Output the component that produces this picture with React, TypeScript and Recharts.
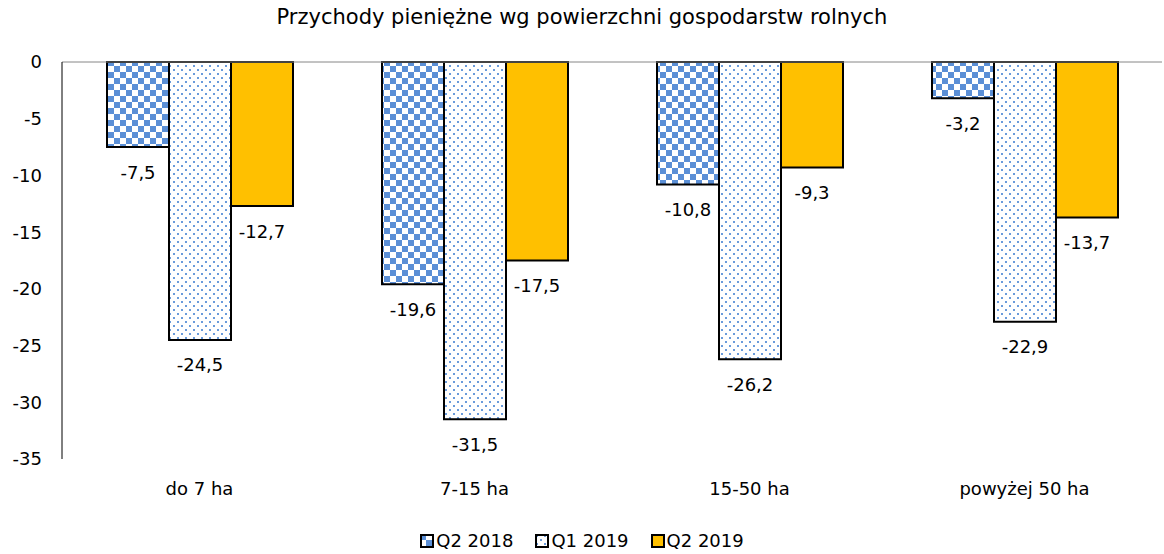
import React from "react";
import { BarChart, Bar, XAxis, YAxis, ReferenceLine, LabelList, Legend } from "recharts";

const categories = ["do 7 ha", "7-15 ha", "15-50 ha", "powyżej 50 ha"];
const q2_2018 = [-7.5, -19.6, -10.8, -3.2];
const q1_2019 = [-24.5, -31.5, -26.2, -22.9];
const q2_2019 = [-12.7, -17.5, -9.3, -13.7];
const yTicks = [0, -5, -10, -15, -20, -25, -30, -35];
const seriesNames = ["Q2 2018", "Q1 2019", "Q2 2019"];

const data = categories.map((c, i) => ({
  name: c,
  a: q2_2018[i],
  b: q1_2019[i],
  c: q2_2019[i],
}));

const FONT = "'DejaVu Sans', Verdana, sans-serif";
const fills = ["url(#checker)", "url(#dots)", "#FFC000"];

const fmt = (v: number) => String(v).replace(".", ",");

const BarLabel = (props: any) => {
  const { x, y, width, height, value } = props;
  const bottom = Math.max(y, y + height);
  return (
    <text
      x={x + width / 2}
      y={bottom + 25}
      textAnchor="middle"
      dominantBaseline="central"
      fontSize={18}
      fontFamily={FONT}
      fill="#000"
    >
      {fmt(value)}
    </text>
  );
};

const LegendContent = () => (
  <div style={{ display: "flex", justifyContent: "center", alignItems: "center", fontFamily: FONT, fontSize: 18, color: "#000" }}>
    {seriesNames.map((n, i) => (
      <div key={n} style={{ display: "flex", alignItems: "center", marginRight: i < 2 ? 22 : 0 }}>
        <svg width={14} height={14} style={{ marginRight: 2 }}>
          <rect x={1} y={1} width={12} height={12} fill={fills[i]} stroke="#000" strokeWidth={2} />
        </svg>
        <span>{n}</span>
      </div>
    ))}
  </div>
);

export default function App() {
  return (
    <div style={{ position: "absolute", left: 0, top: 0, width: 1164, height: 554, background: "#fff" }}>
      <svg width={0} height={0} style={{ position: "absolute" }}>
        <defs>
          <pattern id="checker" width={12} height={12} patternUnits="userSpaceOnUse">
            <rect width={12} height={12} fill="#fff" />
            <rect x={0} y={0} width={6} height={6} fill="#5B8FD6" />
            <rect x={6} y={6} width={6} height={6} fill="#5B8FD6" />
          </pattern>
          <pattern id="dots" width={8} height={8} patternUnits="userSpaceOnUse">
            <rect width={8} height={8} fill="#fff" />
            <rect x={1} y={1} width={2} height={2} fill="#6A9BDB" />
            <rect x={5} y={5} width={2} height={2} fill="#6A9BDB" />
          </pattern>
        </defs>
      </svg>
      <div
        style={{
          position: "absolute",
          top: 5,
          left: 0,
          width: 1164,
          textAlign: "center",
          fontFamily: FONT,
          fontSize: 21,
          color: "#000",
        }}
      >
        Przychody pieniężne wg powierzchni gospodarstw rolnych
      </div>
      <BarChart
        width={1164}
        height={554}
        data={data}
        margin={{ top: 62, right: 2, bottom: 44, left: 0 }}
        barCategoryGap={45}
        barGap={0}
      >
        <XAxis
          dataKey="name"
          axisLine={false}
          tickLine={false}
          height={30}
          tick={{ fontSize: 18, fontFamily: FONT, fill: "#000", dy: 15 }}
          interval={0}
        />
        <YAxis
          width={62}
          domain={[-35, 0]}
          ticks={yTicks}
          interval={0}
          axisLine={{ stroke: "#000", strokeWidth: 1 }}
          tickLine={false}
          tick={{ fontSize: 18, fontFamily: FONT, fill: "#000", dx: -12 }}
        />
        <ReferenceLine y={0} stroke="#868686" strokeWidth={1} />
        <Bar dataKey="a" name={seriesNames[0]} fill={fills[0]} stroke="#000" strokeWidth={2} isAnimationActive={false}>
          <LabelList dataKey="a" content={BarLabel} />
        </Bar>
        <Bar dataKey="b" name={seriesNames[1]} fill={fills[1]} stroke="#000" strokeWidth={2} isAnimationActive={false}>
          <LabelList dataKey="b" content={BarLabel} />
        </Bar>
        <Bar dataKey="c" name={seriesNames[2]} fill={fills[2]} stroke="#000" strokeWidth={2} isAnimationActive={false}>
          <LabelList dataKey="c" content={BarLabel} />
        </Bar>
        <Legend
          verticalAlign="bottom"
          content={LegendContent}
          wrapperStyle={{ bottom: 3, left: 0, width: 1164 }}
        />
      </BarChart>
    </div>
  );
}
